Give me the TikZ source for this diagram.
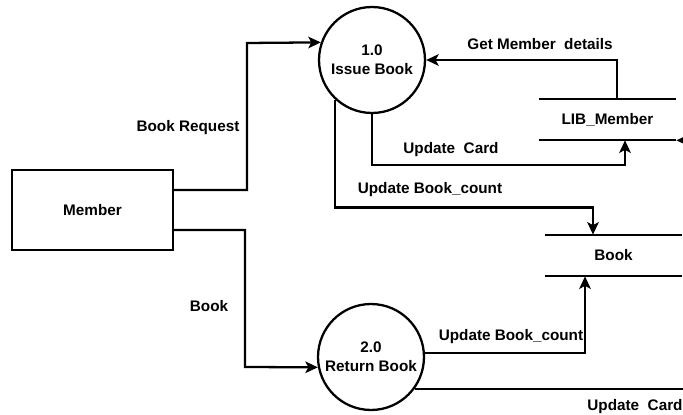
\documentclass[tikz,border=0pt]{standalone}
\usepackage{fontspec}
\setmainfont{Liberation Sans}
\usetikzlibrary{arrows.meta,positioning}
\tikzset{
  flow/.style={line width=1.3pt,-{Stealth[length=0.25cm,width=0.23cm,inset=0.06cm]}},
  process/.style={circle,draw,line width=1.3pt,minimum size=2.12cm,inner sep=0pt,align=center},
  entity/.style={rectangle,draw,line width=1.3pt,minimum width=3.22cm,minimum height=1.6cm},
  store/.style={minimum width=2.74cm,minimum height=0.82cm,inner sep=0pt},
  lbl/.style={inner sep=0pt}
}
\begin{document}
\begin{tikzpicture}[x=0.02cm,y=-0.02cm,font=\fontsize{8.7}{11}\selectfont\bfseries]
\useasboundingbox (0,0) rectangle (683,415);
\clip (0,0) rectangle (683,415);
%
\node[entity] (member) at (92.5,210) {Member};
\node[process] (issue) at (372,60) {1.0\\Issue Book};
\node[process] (return) at (371,357) {2.0\\Return Book};
\node[store] (lib) at (607.5,119.5) {LIB\_Member};
\node[store] (book) at (613.5,255.5) {Book};
\draw[line width=1.3pt] (lib.north west) -- (lib.north east) (lib.south west) -- (lib.south east);
\draw[line width=1.3pt] (book.north west) -- (book.north east) (book.south west) -- (book.south east);
%
\draw[flow] ([yshift=0.4cm]member.east) -| (247,43) -- (issue.161);
\draw[flow] ([yshift=-0.4cm]member.east) -| (245,367) -- (return.191);
\draw[flow] ([xshift=0.19cm]lib.north) |- (issue.east);
\draw[flow] (issue.south) -- ++(0,51) -| ([xshift=0.35cm]lib.south);
\draw[flow] (issue.227) -- ++(0,108) -| ([xshift=-0.41cm]book.north);
\draw[flow] (return.4) -| ([xshift=-0.57cm]book.south);
\draw[flow] (return.-36) -- ++(290,0) |- (lib.south east);
%
\node[lbl] (req) at (188,128) {Book Request};
\node[lbl] (bk) at (209,306) {Book};
\node[lbl] (getm) at (540,44) {Get Member\ \ details};
\node[lbl] (updc1) at (451,150) {Update\ \ Card};
\node[lbl] (updb1) at (430,190) {Update Book\_count};
\node[lbl] (updb2) at (511,337) {Update Book\_count};
\node[lbl] (updc2) at (635,407) {Update\ \ Card};
\end{tikzpicture}
\end{document}
